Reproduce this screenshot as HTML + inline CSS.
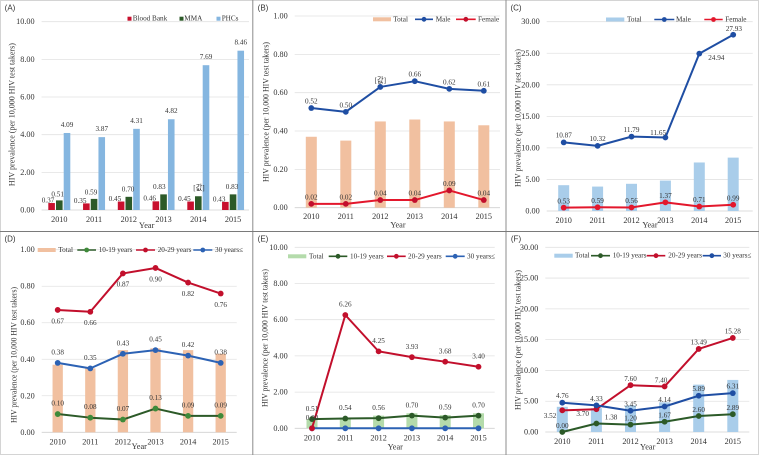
<!DOCTYPE html>
<html lang="en">
<head>
<meta charset="utf-8">
<title>HIV prevalence per 10,000 HIV test takers, 2010-2015</title>
<style>
html,body{margin:0;padding:0;background:#fff;width:759px;height:455px;overflow:hidden}
svg{display:block;filter:blur(.35px)}
text{font-family:"Liberation Serif","Noto Sans CJK KR",serif;fill:#333}
.tick{font-size:8.2px}
.lab{font-size:7.2px}
.leg{font-size:7.2px}
.ttl{font-size:8.3px}
.axt{font-size:8.4px}
.pan{font-family:"Liberation Sans",sans-serif;font-size:8px;fill:#333}
</style>
</head>
<body>
<svg id="figure" xmlns="http://www.w3.org/2000/svg" width="759" height="455" viewBox="0 0 759 455">
<rect x="0" y="0" width="759" height="455" fill="#fff"/>
<rect x="0.5" y="0.5" width="758" height="454" fill="none" stroke="#d4d4d4" stroke-width="1"/>
<line x1="252.8" y1="0" x2="252.8" y2="455" stroke="#8c8c8c" stroke-width="1"/>
<line x1="506" y1="0" x2="506" y2="455" stroke="#8c8c8c" stroke-width="1"/>
<line x1="0" y1="231.5" x2="759" y2="231.5" stroke="#7a7a7a" stroke-width="1"/>
</svg>
<script>
// ---- chart data ----
const years = [2010, 2011, 2012, 2013, 2014, 2015];

const bloodBank = [0.37, 0.35, 0.45, 0.46, 0.45, 0.43];
const mma = [0.51, 0.59, 0.70, 0.83, 0.73, 0.83];
const phcs = [4.09, 3.87, 4.31, 4.82, 7.69, 8.46];
const mmaLabels = ['0.51', '0.59', '0.70', '0.83', '[값]', '0.83'];

const totalB = [0.37, 0.35, 0.45, 0.46, 0.45, 0.43];
const maleB = [0.52, 0.50, 0.63, 0.66, 0.62, 0.61];
const femaleB = [0.02, 0.02, 0.04, 0.04, 0.09, 0.04];
const maleBLabels = ['0.52', '0.50', '[값]', '0.66', '0.62', '0.61'];

const totalC = [4.09, 3.87, 4.31, 4.82, 7.69, 8.46];
const maleC = [10.87, 10.32, 11.79, 11.65, 24.94, 27.93];
const femaleC = [0.53, 0.59, 0.56, 1.37, 0.71, 0.99];

const totalD = [0.37, 0.35, 0.45, 0.46, 0.45, 0.43];
const teenD = [0.10, 0.08, 0.07, 0.13, 0.09, 0.09];
const twentiesD = [0.67, 0.66, 0.87, 0.90, 0.82, 0.76];
const thirtiesD = [0.38, 0.35, 0.43, 0.45, 0.42, 0.38];

const totalE = [0.51, 0.59, 0.70, 0.83, 0.73, 0.83];
const teenE = [0.51, 0.54, 0.56, 0.70, 0.59, 0.70];
const twentiesE = [0.00, 6.26, 4.25, 3.93, 3.68, 3.40];
const thirtiesE = [0.00, 0.00, 0.00, 0.00, 0.00, 0.00];

const totalF = [4.09, 3.87, 4.31, 4.82, 7.69, 8.46];
const teenF = [0.00, 1.38, 1.20, 1.67, 2.60, 2.89];
const twentiesF = [3.52, 3.70, 7.60, 7.40, 13.49, 15.28];
const thirtiesF = [4.76, 4.33, 3.45, 4.14, 5.89, 6.31];

const ticksPrev10 = [0, 2, 4, 6, 8, 10];
const ticksPrev1 = [0, 0.2, 0.4, 0.6, 0.8, 1];
const ticksPrev30 = [0, 5, 10, 15, 20, 25, 30];

// ---- drawing helpers ----
const svg = document.getElementById('figure');
const NS = 'http://www.w3.org/2000/svg';
function make(parent, tag, attrs, name) {
  const el = document.createElementNS(NS, tag);
  for (const k in attrs) el.setAttribute(k, attrs[k]);
  
  
  parent.appendChild(el);
  return el;
}
function label(parent, x, y, str, cls, name, anchor) {
  const t = make(parent, 'text', {x: x, y: y, class: cls, 'text-anchor': anchor || 'middle', 'dominant-baseline': 'central'}, name);
  t.textContent = str;
  return t;
}

function drawPanel(p) {
  const g = make(svg, 'g', {}, 'panel-' + p.id.toLowerCase());
  const xAt = i => p.x0 + i * p.step;
  const yAt = v => p.y0 + (p.yTop - p.y0) * v / p.ticks[p.ticks.length - 1];

  label(g, p.titleX, p.titleY, '(' + p.id + ')', 'pan', 'panel-letter');

  p.ticks.forEach(tv => {
    make(g, 'line', {x1: p.left, x2: p.right, y1: yAt(tv), y2: yAt(tv), stroke: tv === 0 ? '#d0d0d0' : '#e2e2e2', 'stroke-width': 0.8}, 'gridline');
    label(g, p.left - 7, yAt(tv), tv.toFixed(2), 'tick', 'y-tick-label', 'end');
  });
  years.forEach((yr, i) => {
    label(g, xAt(i), p.xTickY, String(yr), 'tick', 'x-tick-label');
  });
  label(g, p.yearX, p.yearY, 'Year', 'ttl', 'x-axis-title');
  const ty = make(g, 'text', {class: 'axt', 'text-anchor': 'middle', 'dominant-baseline': 'central',
    textLength: p.titleAxisLen, lengthAdjust: 'spacingAndGlyphs',
    transform: 'translate(' + p.titleAxisX + ',' + p.titleAxisY + ') rotate(-90)'}, 'y-axis-title');
  ty.textContent = 'HIV prevalence (per 10,000 HIV test takers)';

  (p.bars || []).forEach(b => {
    b.values.forEach((v, i) => {
      const top = yAt(v);
      make(g, 'rect', {x: xAt(i) + (b.shift || 0) - p.barW / 2, y: top, width: p.barW, height: p.y0 - top, fill: b.color}, 'bar-' + b.key + '-' + years[i]);
    });
  });
  (p.bars || []).forEach(b => {
    if (b.labelsOn) {
      b.values.forEach((v, i) => {
        const n = (b.nudge && b.nudge[i]) || {};
        const txt = b.labels ? b.labels[i] : v.toFixed(2);
        label(g, xAt(i) + (b.shift || 0) + (b.dx || 0) + (n.dx || 0), yAt(v) + (b.dy || -7) + (n.dy || 0), txt, 'lab', 'data-label-' + b.key);
      });
    }
  });

  (p.lines || []).forEach(s => {
    const pts = s.values.map((v, i) => xAt(i) + ',' + yAt(v)).join(' ');
    make(g, 'polyline', {points: pts, fill: 'none', stroke: s.color, 'stroke-width': 2, 'stroke-linejoin': 'round'}, 'line-' + s.key);
    s.values.forEach((v, i) => {
      make(g, 'circle', {cx: xAt(i), cy: yAt(v), r: 2.9, fill: s.marker || s.color}, 'point-' + s.key + '-' + years[i]);
    });
  });
  (p.lines || []).forEach(s => {
    if (s.noLabels) return;
    s.values.forEach((v, i) => {
      const n = (s.nudge && s.nudge[i]) || {};
      const txt = s.labels ? s.labels[i] : v.toFixed(2);
      label(g, xAt(i) + (n.dx || 0), yAt(v) + (n.dy !== undefined ? n.dy : s.dy), txt, 'lab', 'data-label-' + s.key);
    });
  });

  p.legend.forEach(l => {
    const lg = make(g, 'g', {}, 'legend-entry-' + l.key);
    if (l.type === 'square') {
      make(lg, 'rect', {x: l.x1, y: p.legY - 2, width: 4, height: 4, fill: l.color}, 'legend-swatch');
    } else if (l.type === 'band') {
      make(lg, 'rect', {x: l.x1, y: p.legY - 2, width: l.x2 - l.x1, height: 4, fill: l.color}, 'legend-swatch');
    } else {
      make(lg, 'line', {x1: l.x1, x2: l.x2, y1: p.legY, y2: p.legY, stroke: l.color, 'stroke-width': 1.6}, 'legend-line');
      make(lg, 'circle', {cx: (l.x1 + l.x2) / 2, cy: p.legY, r: 2.4, fill: l.marker || l.color}, 'legend-marker');
    }
    label(lg, l.tx, p.legY, l.text, 'leg', 'legend-label', 'start');
  });
}

const RED = '#e3172c', DRED = '#c20f2c', NAVY = '#1f4ea3', BLUE = '#2c62b4', DGREEN = '#2c5a28';
const PEACH = '#f1c0a0', SKY = '#a9cdea', MINT = '#b4dbab';

drawPanel({
  id: 'A', x0: 59.3, step: 34.75, left: 41.6, right: 249, y0: 210, yTop: 21.7, barW: 6.6, ticks: ticksPrev10,
  titleX: 10, titleY: 8, xTickY: 219.3, yearX: 146.7, yearY: 225.3, titleAxisX: 12, titleAxisY: 114.6, titleAxisLen: 143, legY: 18.7,
  bars: [
    {key: 'blood-bank', values: bloodBank, color: '#c8102e', shift: -7.7, labelsOn: true, dx: -6.2, dy: -2.6,
      nudge: {0: {dx: 2.6}}},
    {key: 'mma', values: mma, color: '#2c5a28', shift: 0, labelsOn: true, dy: -7.3, labels: mmaLabels,
      nudge: {0: {dx: -1.6, dy: 1.2}, 1: {dx: -3, dy: 1}, 2: {dx: -0.7}, 3: {dx: -4.3}, 4: {dx: 0.7, dy: -1.2}, 5: {dx: -1}}},
    {key: 'phcs', values: phcs, color: '#85b6e0', shift: 7.7, labelsOn: true, dy: -8}
  ],
  legend: [
    {key: 'blood-bank', type: 'square', x1: 127.5, color: '#c8102e', tx: 132.7, text: 'Blood Bank'},
    {key: 'mma', type: 'square', x1: 179.5, color: '#2c5a28', tx: 184.3, text: 'MMA'},
    {key: 'phcs', type: 'square', x1: 216.5, color: '#85b6e0', tx: 221.7, text: 'PHCs'}
  ]
});

drawPanel({
  id: 'B', x0: 311.3, step: 34.5, left: 294.7, right: 500, y0: 207.7, yTop: 16, barW: 11, ticks: ticksPrev1,
  titleX: 263, titleY: 8, xTickY: 216.7, yearX: 398, yearY: 225, titleAxisX: 266, titleAxisY: 112, titleAxisLen: 140, legY: 19.3,
  bars: [{key: 'total', values: totalB, color: PEACH}],
  lines: [
    {key: 'male', values: maleB, color: NAVY, dy: -6.5, labels: maleBLabels},
    {key: 'female', values: femaleB, color: RED, marker: DRED, dy: -6.6}
  ],
  legend: [
    {key: 'total', type: 'band', x1: 373, x2: 391, color: PEACH, tx: 393.3, text: 'Total'},
    {key: 'male', type: 'line', x1: 415, x2: 433, color: NAVY, tx: 435.7, text: 'Male'},
    {key: 'female', type: 'line', x1: 456, x2: 475.7, color: RED, marker: DRED, tx: 478, text: 'Female'}
  ]
});

drawPanel({
  id: 'C', x0: 563.7, step: 33.9, left: 546.7, right: 752.7, y0: 211, yTop: 21.7, barW: 11, ticks: ticksPrev30,
  titleX: 516, titleY: 8, xTickY: 220.7, yearX: 650, yearY: 225, titleAxisX: 518, titleAxisY: 118, titleAxisLen: 138, legY: 19.5,
  bars: [{key: 'total', values: totalC, color: SKY}],
  lines: [
    {key: 'male', values: maleC, color: NAVY, dy: -6.7, nudge: {3: {dx: -7.3, dy: -4.5}, 4: {dx: 17, dy: 4.5}, 5: {dx: 0.7, dy: -5.8}}},
    {key: 'female', values: femaleC, color: RED, dy: -6.3}
  ],
  legend: [
    {key: 'total', type: 'band', x1: 606, x2: 624.3, color: SKY, tx: 627, text: 'Total'},
    {key: 'male', type: 'line', x1: 654.3, x2: 674.3, color: NAVY, tx: 676, text: 'Male'},
    {key: 'female', type: 'line', x1: 704.3, x2: 722.7, color: RED, tx: 725.3, text: 'Female'}
  ]
});

drawPanel({
  id: 'D', x0: 57.7, step: 32.6, left: 41.7, right: 236.7, y0: 432.3, yTop: 249.7, barW: 10.3, ticks: ticksPrev1,
  titleX: 10, titleY: 239, xTickY: 442, yearX: 139.3, yearY: 446.7, titleAxisX: 14, titleAxisY: 355, titleAxisLen: 136, legY: 250,
  bars: [{key: 'total', values: totalD, color: PEACH}],
  lines: [
    {key: 'age-10-19', values: teenD, color: DGREEN, marker: '#3f8a3a', dy: -10.5},
    {key: 'age-20-29', values: twentiesD, color: DRED, dy: 11.3},
    {key: 'age-30-plus', values: thirtiesD, color: BLUE, dy: -10.5}
  ],
  legend: [
    {key: 'total', type: 'band', x1: 37.7, x2: 55.7, color: PEACH, tx: 58.3, text: 'Total'},
    {key: 'age-10-19', type: 'line', x1: 77.3, x2: 96, color: DGREEN, marker: '#3f8a3a', tx: 98.7, text: '10-19 years'},
    {key: 'age-20-29', type: 'line', x1: 136, x2: 155, color: DRED, tx: 157.7, text: '20-29 years'},
    {key: 'age-30-plus', type: 'line', x1: 193.3, x2: 212.3, color: BLUE, tx: 215, text: '30 years≤'}
  ]
});

drawPanel({
  id: 'E', x0: 312, step: 33.3, left: 294.7, right: 494.7, y0: 428.3, yTop: 247.3, barW: 11, ticks: ticksPrev10,
  titleX: 263, titleY: 239, xTickY: 438, yearX: 395.3, yearY: 447, titleAxisX: 265, titleAxisY: 338, titleAxisLen: 138, legY: 256.3,
  bars: [{key: 'total', values: totalE, color: MINT}],
  lines: [
    {key: 'age-30-plus', values: thirtiesE, color: BLUE, noLabels: true},
    {key: 'age-20-29', values: twentiesE, color: DRED, dy: -10.3},
    {key: 'age-10-19', values: teenE, color: DGREEN, dy: -10.3}
  ],
  legend: [
    {key: 'total', type: 'band', x1: 288, x2: 306.3, color: MINT, tx: 309, text: 'Total'},
    {key: 'age-10-19', type: 'line', x1: 328.7, x2: 347.3, color: DGREEN, tx: 350, text: '10-19 years'},
    {key: 'age-20-29', type: 'line', x1: 387, x2: 405.7, color: DRED, tx: 408, text: '20-29 years'},
    {key: 'age-30-plus', type: 'line', x1: 445.7, x2: 464.7, color: BLUE, tx: 467, text: '30 years≤'}
  ]
});

drawPanel({
  id: 'F', x0: 562.3, step: 34.1, left: 545.3, right: 749.3, y0: 432, yTop: 247.3, barW: 11, ticks: ticksPrev30,
  titleX: 516, titleY: 239, xTickY: 441.3, yearX: 647.7, yearY: 447, titleAxisX: 518, titleAxisY: 340, titleAxisLen: 140, legY: 255.7,
  bars: [{key: 'total', values: totalF, color: SKY}],
  lines: [
    {key: 'age-10-19', values: teenF, color: DGREEN, dy: -6, nudge: {1: {dx: 14.7, dy: -6}}},
    {key: 'age-20-29', values: twentiesF, color: DRED, dy: -6.3, nudge: {0: {dx: -12.3, dy: 5.7}, 1: {dx: -13.7, dy: 5}, 3: {dx: -3.5, dy: -5.7}}},
    {key: 'age-30-plus', values: thirtiesF, color: '#1f4ea3', dy: -6.5}
  ],
  legend: [
    {key: 'total', type: 'band', x1: 554.3, x2: 572.7, color: SKY, tx: 575, text: 'Total'},
    {key: 'age-10-19', type: 'line', x1: 591, x2: 610, color: DGREEN, tx: 612.7, text: '10-19 years'},
    {key: 'age-20-29', type: 'line', x1: 646.7, x2: 665.3, color: DRED, tx: 668.3, text: '20-29 years'},
    {key: 'age-30-plus', type: 'line', x1: 702.7, x2: 721, color: '#1f4ea3', tx: 723.3, text: '30 years≤'}
  ]
});
</script>
</body>
</html>
